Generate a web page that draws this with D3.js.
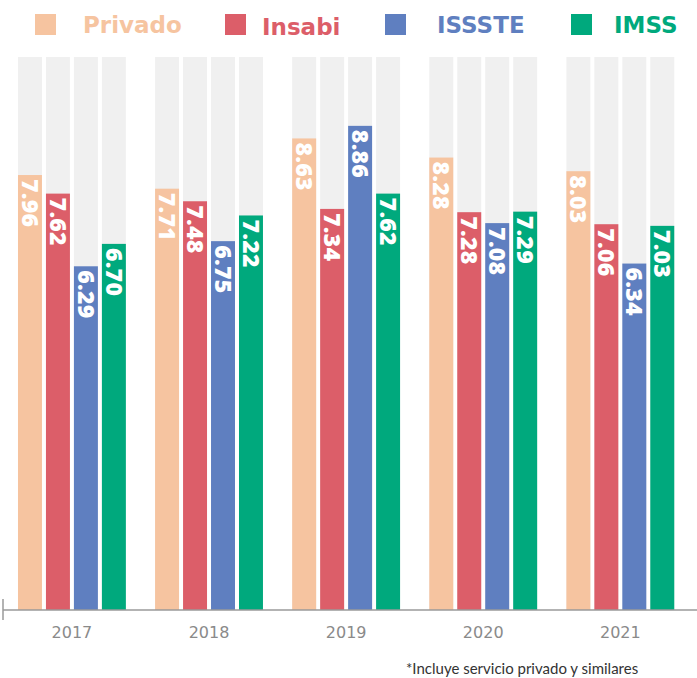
<!DOCTYPE html>
<html>
<head>
<meta charset="utf-8">
<script src="https://cdn.jsdelivr.net/npm/d3@7"></script>
<style>
  html, body { margin: 0; padding: 0; background: #fff; }
  svg { display: block; }
</style>
</head>
<body>
<svg id="chart" width="697" height="678"></svg>
<script>
// ---- data ----
const years = ["2017", "2018", "2019", "2020", "2021"];
const seriesNames = ["Privado", "Insabi", "ISSSTE", "IMSS"];
const privado = [7.96, 7.71, 8.63, 8.28, 8.03];
const insabi  = [7.62, 7.48, 7.34, 7.28, 7.06];
const issste  = [6.29, 6.75, 8.86, 7.08, 6.34];
const imss    = [6.70, 7.22, 7.62, 7.29, 7.03];
const backgroundMax = 10.12;
const footnote = "*Incluye servicio privado y similares";

// ---- styles ----
const colors = ["#F6C4A0", "#DC5E69", "#5F7FC0", "#00A97D"];
const seriesValues = [privado, insabi, issste, imss];

const svg = d3.select("#chart");
const W = 697, H = 678;
const baseY = 610, topY = 57;

const step = 137.25;
const x0 = d3.scaleBand().domain(years).range([3, 3 + 5 * step])
  .paddingInner((step - 108) / step).paddingOuter(15 / step);
const x1 = d3.scaleBand().domain(seriesNames).range([0, x0.bandwidth()]).paddingInner(4 / 28).paddingOuter(0);
const y = d3.scaleLinear().domain([0, backgroundMax]).range([baseY, topY]);

const rows = [];
years.forEach((yr, i) => {
  seriesNames.forEach((s, j) => {
    rows.push({ year: yr, series: s, value: seriesValues[j][i], color: colors[j] });
  });
});

// background bars
svg.append("g").selectAll("rect").data(rows).join("rect")
  .attr("x", d => x0(d.year) + x1(d.series))
  .attr("width", x1.bandwidth())
  .attr("y", y(backgroundMax))
  .attr("height", y(0) - y(backgroundMax))
  .attr("fill", "#F0F0F0");

// value bars
svg.append("g").selectAll("rect").data(rows).join("rect")
  .attr("x", d => x0(d.year) + x1(d.series))
  .attr("width", x1.bandwidth())
  .attr("y", d => y(d.value))
  .attr("height", d => y(0) - y(d.value))
  .attr("fill", d => d.color);

// value labels (rotated)
svg.append("g").selectAll("text").data(rows).join("text")
  .attr("transform", d => `translate(${x0(d.year) + x1(d.series) + x1.bandwidth() / 2},${y(d.value) + 4}) rotate(90)`)
  .attr("dy", "0.36em")
  .attr("text-anchor", "start")
  .attr("fill", "#fff")
  .style("font-family", "'Open Sans', sans-serif")
  .style("font-weight", 800)
  .style("font-size", "23px")
  .style("letter-spacing", "0.3px")
  .text(d => d.value.toFixed(2));

// x axis
const axis = svg.append("g").attr("transform", `translate(0,${baseY})`)
  .call(d3.axisBottom(x0).tickSize(0).tickPadding(17));
axis.select(".domain").remove();
axis.selectAll("text")
  .attr("fill", "#8a8a8a")
  .style("font-family", "'DejaVu Sans', sans-serif")
  .style("font-size", "16px");
svg.append("line").attr("x1", 3).attr("x2", W).attr("y1", baseY).attr("y2", baseY)
  .attr("stroke", "#9a9a9a").attr("stroke-width", 1.5);
svg.append("line").attr("x1", 3).attr("x2", 3).attr("y1", baseY - 11).attr("y2", baseY + 10)
  .attr("stroke", "#9a9a9a").attr("stroke-width", 1.5);

// legend
const legendSquareX = [35, 225, 385, 571];
const legendTextX = [83, 262, 437, 614];
const lg = svg.append("g");
seriesNames.forEach((s, j) => {
  lg.append("rect").attr("x", legendSquareX[j]).attr("y", 14).attr("width", 21).attr("height", 21).attr("fill", colors[j]);
  lg.append("text").attr("x", legendTextX[j]).attr("y", j === 1 ? 35 : 33)
    .attr("fill", colors[j])
    .style("font-family", "'DejaVu Sans', sans-serif")
    .style("font-weight", "bold")
    .style("font-size", "23px")
    .text(s);
});

// footnote
svg.append("text").attr("x", 406).attr("y", 674)
  .attr("fill", "#333")
  .style("font-family", "Lato, sans-serif")
  .style("font-size", "15px")
  .text(footnote);
</script>
</body>
</html>
